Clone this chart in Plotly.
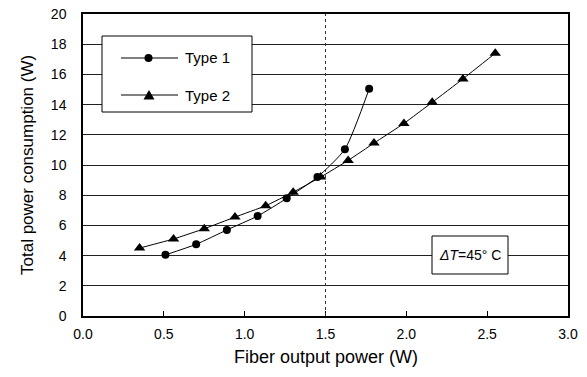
import plotly.graph_objects as go

type1_x = [0.51, 0.70, 0.89, 1.08, 1.26, 1.45, 1.62, 1.77]
type1_y = [4.05, 4.75, 5.70, 6.62, 7.79, 9.20, 11.05, 15.05]
type2_x = [0.35, 0.56, 0.75, 0.94, 1.13, 1.30, 1.47, 1.64, 1.80, 1.985, 2.16, 2.35, 2.55]
type2_y = [4.50, 5.10, 5.78, 6.55, 7.30, 8.20, 9.20, 10.30, 11.45, 12.75, 14.15, 15.70, 17.40]
series_names = ["Type 1", "Type 2"]
x_ticks = [0.0, 0.5, 1.0, 1.5, 2.0, 2.5, 3.0]
y_ticks = [0, 2, 4, 6, 8, 10, 12, 14, 16, 18, 20]
ref_x = 1.5
note_text = "<i>ΔT</i>=45° C"

FONT = "Liberation Sans, Arial, Helvetica, sans-serif"
W, H = 587, 377
ML, MR, MT, MB = 83, 19, 14, 61
PW, PH = W - ML - MR, H - MT - MB


def px(xp):
    return (xp - ML) / PW


def py(yp):
    return (H - MB - yp) / PH


fig = go.Figure()
fig.add_trace(go.Scatter(
    x=type1_x, y=type1_y, name=series_names[0], mode="lines+markers",
    line=dict(color="black", width=1, shape="spline", smoothing=0.6),
    marker=dict(symbol="circle", size=8, color="black"), showlegend=False))
fig.add_trace(go.Scatter(
    x=type2_x, y=type2_y, name=series_names[1], mode="lines+markers",
    line=dict(color="black", width=1, shape="spline", smoothing=0.3),
    marker=dict(symbol="triangle-up", size=10, color="black"), showlegend=False))

# reference dotted line
fig.add_shape(type="line", x0=ref_x, x1=ref_x, y0=0, y1=20, xref="x", yref="y",
              line=dict(color="#333", width=1, dash="dot"))

# manual legend box
fig.add_shape(type="rect", xref="paper", yref="paper",
              x0=px(102), x1=px(252), y0=py(112), y1=py(36),
              fillcolor="white", line=dict(color="black", width=1), layer="above")
for i, yy in enumerate([58, 95]):
    fig.add_shape(type="line", xref="paper", yref="paper",
                  x0=px(121), x1=px(178), y0=py(yy), y1=py(yy),
                  line=dict(color="black", width=1), layer="above")
    fig.add_annotation(x=px(183), y=py(yy), xref="paper", yref="paper",
                       xanchor="left", yanchor="middle", showarrow=False,
                       text=series_names[i], font=dict(family=FONT, size=15, color="black"))
# legend markers
fig.add_shape(type="circle", xref="paper", yref="paper",
              x0=px(144.5), x1=px(152.5), y0=py(62), y1=py(54),
              fillcolor="black", line=dict(color="black", width=0), layer="above")
tri = f"M {px(143.5)} {py(99.5)} L {px(154.5)} {py(99.5)} L {px(149)} {py(90)} Z"
fig.add_shape(type="path", xref="paper", yref="paper", path=tri,
              fillcolor="black", line=dict(color="black", width=0), layer="above")

# note box
fig.add_shape(type="rect", xref="paper", yref="paper",
              x0=px(432), x1=px(508), y0=py(274), y1=py(236),
              fillcolor="white", line=dict(color="black", width=1), layer="above")
fig.add_annotation(x=px(470), y=py(255), xref="paper", yref="paper", showarrow=False,
                   xanchor="center", yanchor="middle",
                   text=note_text, font=dict(family=FONT, size=14, color="black"))

# axis titles
fig.add_annotation(x=0.5, y=py(357), xref="paper", yref="paper", showarrow=False,
                   xanchor="center", yanchor="middle",
                   text="Fiber output power (W)", font=dict(family=FONT, size=18, color="black"))
fig.add_annotation(x=px(27), y=0.5, xref="paper", yref="paper", showarrow=False,
                   xanchor="center", yanchor="middle", textangle=-90,
                   text="Total power consumption (W)", font=dict(family=FONT, size=17, color="black"))

fig.update_layout(
    width=W, height=H,
    margin=dict(l=ML, r=MR, t=MT, b=MB),
    paper_bgcolor="white", plot_bgcolor="white",
    font=dict(family=FONT, size=14, color="black"),
    showlegend=False,
)
fig.update_xaxes(range=[0, 3.0], tickvals=x_ticks, ticktext=[f"{v:.1f}" for v in x_ticks],
                 showgrid=False, zeroline=False, showline=True, mirror=True,
                 linecolor="black", linewidth=1.5, ticks="inside", ticklen=5,
                 tickcolor="black", automargin=False, ticklabelstandoff=4,
                 tickfont=dict(size=14))
fig.update_yaxes(range=[0, 20], tickvals=y_ticks, showgrid=True, gridcolor="#222",
                 gridwidth=1, zeroline=False, showline=True, mirror=True,
                 linecolor="black", linewidth=1.5, ticks="", automargin=False,
                 ticklabelstandoff=12, tickfont=dict(size=14))

fig.write_html("out.html", config={"displayModeBar": False},
               post_script="document.body.style.margin='0';")
